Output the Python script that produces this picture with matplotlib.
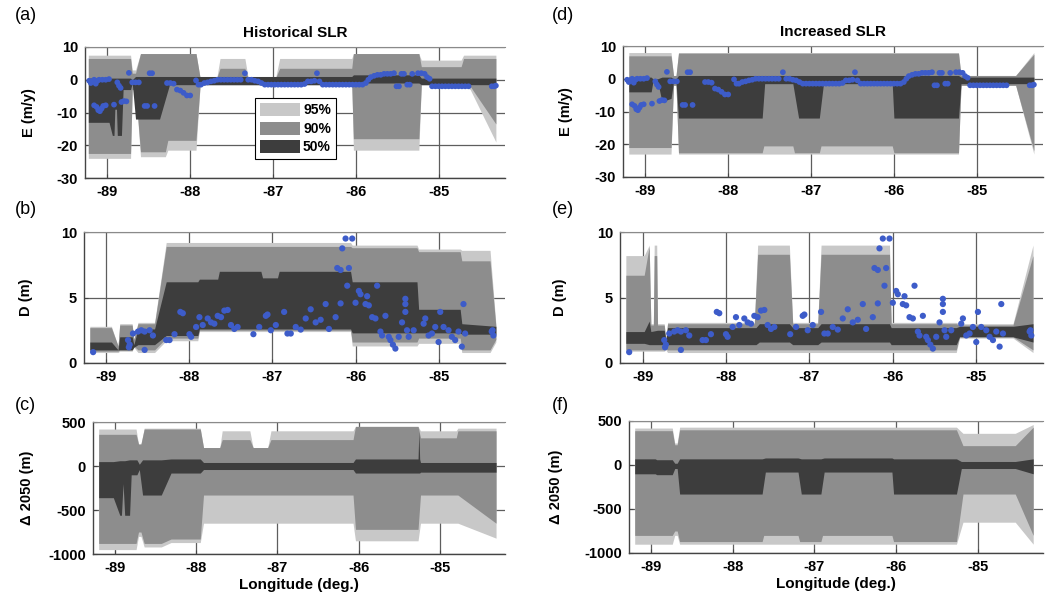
import matplotlib
matplotlib.use('Agg')
import matplotlib.pyplot as plt
from matplotlib.patches import Patch

plt.rcParams['font.family'] = ['Liberation Sans', 'DejaVu Sans']
plt.rcParams['font.weight'] = 'bold'
plt.rcParams['axes.unicode_minus'] = False

C95 = '#c8c8c8'
C90 = '#8d8d8d'
C50 = '#3d3d3d'
CPT = '#3d5cc9'

XTICKS = [-89, -88, -87, -86, -85]
LEGEND_LABELS = ['95%', '90%', '50%']

# ---------------- observations (shared by both scenarios) ----------------
E_lon = [-89.22, -89.20, -89.18, -89.16, -89.14, -89.12, -89.10, -89.06, -89.02, -88.98,
         -89.16, -89.13, -89.11, -89.09, -89.07, -89.05, -89.02, -88.92, -88.88, -88.86,
         -88.84, -88.83, -88.80, -88.77, -88.74, -88.70, -88.66, -88.62, -88.55, -88.52,
         -88.49, -88.46, -88.43, -88.28, -88.24, -88.20, -88.16, -88.12, -88.08, -88.04,
         -88.00, -87.93, -87.90, -87.87, -87.83, -87.79, -87.75, -87.71, -87.67, -87.63,
         -87.59, -87.55, -87.51, -87.47, -87.43, -87.39, -87.34, -87.30, -87.26, -87.22,
         -87.18, -87.14, -87.10, -87.06, -87.02, -86.98, -86.94, -86.90, -86.86, -86.82,
         -86.78, -86.74, -86.70, -86.66, -86.62, -86.58, -86.54, -86.50, -86.47, -86.44,
         -86.40, -86.36, -86.32, -86.28, -86.24, -86.20, -86.16, -86.12, -86.08, -86.04,
         -86.00, -85.96, -85.92, -85.88, -85.85, -85.82, -85.78, -85.74, -85.70, -85.66,
         -85.62, -85.58, -85.54, -85.51, -85.48, -85.45, -85.42, -85.38, -85.35, -85.32,
         -85.25, -85.21, -85.17, -85.14, -85.11, -85.08, -85.04, -85.00, -84.96, -84.92,
         -84.88, -84.84, -84.80, -84.76, -84.72, -84.68, -84.64, -84.36, -84.33, -84.31]
E_val = [-0.3, -1.0, -0.5, 0.0, -1.2, -0.3, 0.0, 0.0, 0.0, 0.2,
         -7.8, -8.3, -9.3, -9.6, -8.8, -8.0, -7.8, -7.6, -0.8, -1.8,
         -2.5, -6.8, -6.5, -6.6, 2.1, -0.8, -0.8, -0.8, -8.0, -8.0,
         2.0, 2.0, -8.0, -1.0, -1.0, -1.2, -3.0, -3.3, -4.0, -4.8,
         -4.8, -0.2, -1.5, -1.5, -1.0, -0.8, -0.5, -0.3, 0.0, 0.0,
         0.0, 0.0, 0.0, 0.0, 0.0, 0.0, 2.0, 0.0, 0.0, -0.3,
         -0.5, -1.0, -1.5, -1.5, -1.5, -1.5, -1.5, -1.5, -1.5, -1.5,
         -1.5, -1.5, -1.5, -1.5, -1.3, -0.5, -0.5, -0.3, 2.0, -0.5,
         -1.5, -1.5, -1.5, -1.5, -1.5, -1.5, -1.5, -1.5, -1.5, -1.5,
         -1.5, -1.5, -1.5, -1.0, 0.0, 0.8, 1.2, 1.5, 1.5, 1.8,
         1.8, 1.8, 2.0, -2.0, -2.0, 1.8, 1.8, -1.5, -1.5, 1.8,
         2.0, 2.0, 1.8, 0.8, 0.3, -2.0, -2.0, -2.0, -2.0, -2.0,
         -2.0, -2.0, -2.0, -2.0, -2.0, -2.0, -2.0, -2.0, -2.0, -1.8]

D_lon = [-89.16, -88.74, -88.72, -88.73, -88.68, -88.62, -88.58, -88.54, -88.54, -88.48,
         -88.44, -88.28, -88.24, -88.18, -88.11, -88.08, -88.00, -87.98, -87.92, -87.88,
         -87.84, -87.78, -87.74, -87.70, -87.66, -87.62, -87.58, -87.54, -87.50, -87.46,
         -87.42, -87.23, -87.16, -87.08, -87.06, -87.02, -86.96, -86.86, -86.82, -86.78,
         -86.72, -86.66, -86.60, -86.54, -86.48, -86.42, -86.36, -86.32, -86.24, -86.22,
         -86.18, -86.16, -86.12, -86.04, -86.08, -86.10, -86.18, -86.00, -85.96, -85.94,
         -85.88, -85.84, -85.86, -85.80, -85.76, -85.74, -85.70, -85.68, -85.64, -85.60,
         -85.58, -85.55, -85.52, -85.48, -85.44, -85.40, -85.40, -85.40, -85.38, -85.36,
         -85.30, -85.18, -85.16, -85.12, -85.08, -85.04, -85.00, -84.98, -84.94, -84.88,
         -84.84, -84.80, -84.76, -84.72, -84.70, -84.68, -84.36, -84.34, -84.35]
D_val = [0.83, 1.75, 1.4, 1.2, 2.25, 2.4, 2.5, 2.4, 1.0, 2.5,
         2.1, 1.75, 1.75, 2.2, 3.9, 3.8, 2.2, 2.0, 2.75, 3.5,
         2.9, 3.4, 3.1, 3.0, 3.6, 3.5, 4.0, 4.05, 2.9, 2.6,
         2.75, 2.2, 2.75, 3.6, 3.7, 2.5, 2.9, 3.9, 2.25, 2.25,
         2.75, 2.55, 3.4, 4.1, 3.1, 3.3, 4.5, 2.6, 3.5, 7.25,
         7.1, 8.75, 9.5, 9.5, 7.25, 5.9, 4.55, 4.6, 5.5, 5.25,
         4.5, 4.4, 5.1, 3.5, 3.4, 5.9, 2.4, 2.1, 3.6, 2.0,
         1.75, 1.4, 1.1, 2.0, 3.1, 3.9, 4.5, 4.9, 2.5, 2.0,
         2.5, 3.0, 3.4, 2.1, 2.25, 2.75, 1.6, 3.9, 2.75, 2.5,
         2.0, 1.75, 2.4, 1.25, 4.5, 2.25, 2.4, 2.1, 2.5]

# ---------------- (a) E, historical ----------------
a9_x = [-89.23, -88.72, -88.70, -88.66, -88.60, -88.30, -88.27, -87.93, -87.88, -87.68,
        -87.64, -87.34, -87.30, -86.97, -86.92, -86.05, -86.03, -85.24, -85.21, -84.73,
        -84.70, -84.62, -84.31]
a95_hi = [7.5, 7.5, 3, 3, 8, 8, 8, 8, 0.5, 0.5, 6.5, 6.5, 0.5, 0.5, 6.5, 6.5, 8, 8, 6, 6, 7.5, 7.5, 7.5]
a95_lo = [-24, -24, -3, -3, -23.5, -23.5, -21.5, -21.5, -1.5, -1.5, -1.5, -1.5, -1.5, -1.5, -1.5, -1.5,
          -21.5, -21.5, -1.5, -1.5, -1.5, -3, -19]
a90_hi = [6.5, 6.5, 2, 2, 8, 8, 8, 8, 0.5, 0.5, 3.5, 3.5, 0.5, 0.5, 3.5, 3.5, 8, 8, 4, 4, 6.5, 6.5, 6.5]
a90_lo = [-22.5, -22.5, -3, -3, -22, -22, -18.5, -18.5, -1.5, -1.5, -1.5, -1.5, -1.5, -1.5, -1.5, -1.5,
          -18, -18, -1.5, -1.5, -1.5, -2, -13.5]
a50_x = [-89.23, -88.98, -88.94, -88.92, -88.91, -88.89, -88.88, -88.83, -88.81, -88.72,
         -88.70, -88.66, -88.37, -88.25, -86.05, -86.03, -85.24, -85.21, -84.31]
a50_hi = [0.5, 0.5, 0.5, 0.5, 0.5, 0.5, 0.5, 0.5, 0.5, 0.5, 0, 1, 1, 1, 1, 1.5, 1.5, 0.5, 0.5]
a50_lo = [-13, -13, -17, -17, -9, -9, -17, -17, -3, -3, -1, -12, -12, -1.5, -1.5, -1, -1, -1.5, -1.5]

# ---------------- (b) D, historical ----------------
b9_x = [-89.20, -88.94, -88.86, -88.84, -88.69, -88.67, -88.62, -88.42, -88.28, -87.90,
        -87.88, -86.06, -86.04, -85.26, -85.24, -84.74, -84.72, -84.38, -84.31]
b95_hi = [2.8, 2.8, 1.3, 3.0, 3.0, 1.8, 3.1, 3.1, 9.2, 9.2, 9.2, 9.2, 9.0, 9.0, 8.7, 8.7, 8.6, 8.6, 3.0]
b95_lo = [0.8, 0.8, 0.8, 0.9, 0.9, 1.2, 0.8, 0.8, 1.7, 1.7, 2.4, 2.4, 1.3, 1.3, 1.5, 1.5, 0.8, 0.8, 1.6]
b90_hi = [2.7, 2.7, 1.3, 2.9, 2.9, 1.8, 3.0, 3.0, 8.9, 8.9, 8.9, 8.9, 8.8, 8.8, 8.5, 8.5, 7.8, 7.8, 2.8]
b90_lo = [0.9, 0.9, 0.9, 1.0, 1.0, 1.3, 1.0, 1.0, 1.9, 1.9, 2.5, 2.5, 1.6, 1.6, 1.9, 1.9, 1.0, 1.0, 1.8]
b50_x = [-89.20, -88.94, -88.86, -88.84, -88.69, -88.67, -88.62, -88.42, -88.28, -87.90,
         -87.88, -87.66, -87.64, -87.14, -87.12, -86.94, -86.92, -86.06, -86.04, -85.26,
         -85.24, -84.74, -84.72, -84.31]
b50_hi = [1.6, 1.6, 1.0, 2.0, 2.0, 1.4, 2.6, 2.6, 6.2, 6.2, 6.4, 6.4, 7.0, 7.0, 6.5, 6.5, 7.0, 7.0,
          6.2, 6.2, 4.1, 4.1, 3.0, 2.8]
b50_lo = [1.0, 1.0, 1.0, 1.0, 1.0, 1.2, 1.4, 1.4, 2.1, 2.1, 2.6, 2.6, 2.6, 2.6, 2.6, 2.6, 2.6, 2.6,
          2.3, 2.3, 2.3, 2.3, 2.2, 2.2]

# ---------------- (c) Delta 2050, historical ----------------
c9_x = [-89.20, -88.74, -88.71, -88.68, -88.64, -88.43, -88.31, -87.95, -87.91, -87.71,
        -87.68, -87.34, -87.30, -87.12, -87.08, -86.07, -86.04, -85.27, -85.24, -84.80,
        -84.78, -84.31]
c95_hi = [420, 420, 250, 250, 430, 430, 430, 430, 210, 210, 400, 400, 210, 210, 400, 400,
          450, 450, 400, 400, 430, 430]
c95_lo = [-950, -950, -800, -800, -920, -920, -870, -870, -650, -650, -650, -650, -650, -650,
          -650, -650, -850, -850, -650, -650, -650, -820]
c90_hi = [360, 360, 250, 250, 420, 420, 420, 420, 210, 210, 300, 300, 210, 210, 300, 300,
          450, 450, 320, 320, 400, 400]
c90_lo = [-880, -880, -750, -750, -880, -880, -830, -830, -330, -330, -330, -330, -330, -330,
          -330, -330, -720, -720, -330, -330, -330, -650]
c50_x = [-89.20, -89.02, -88.94, -88.92, -88.90, -88.88, -88.82, -88.80, -88.73, -88.70,
         -88.66, -88.43, -88.31, -87.95, -87.91, -86.07, -86.04, -85.27, -85.26, -85.25,
         -85.24, -84.31]
c50_hi = [50, 50, 60, 60, 60, 60, 70, 70, 70, 20, 70, 70, 80, 80, 40, 40, 80, 80, 400, 80, 40, 40]
c50_lo = [-360, -360, -560, -560, -200, -560, -560, -100, -100, -40, -330, -330, -80, -80,
          -40, -40, -80, -80, -80, -80, -70, -70]

# ---------------- (d) E, increased ----------------
d9_x = [-89.20, -88.69, -88.66, -88.63, -88.60, -87.59, -87.57, -87.22, -87.20, -86.90,
        -86.88, -86.02, -86.00, -85.22, -85.19, -84.53, -84.31]
d95_hi = [8, 8, 1, 1, 8, 8, 8, 8, 8, 8, 8, 8, 8, 8, 1, 1, 8]
d95_lo = [-23, -23, -2, -2, -23, -23, -23, -23, -23, -23, -23, -23, -23, -23, -2, -2, -23]
d90_hi = [7, 7, 1, 1, 7.8, 7.8, 7.8, 7.8, 7.8, 7.8, 7.8, 7.8, 7.8, 7.8, 1, 1, 7.5]
d90_lo = [-21, -21, -2, -2, -22.6, -22.6, -20.5, -20.5, -22.6, -22.6, -20.5, -20.5, -22.6, -22.6,
          -2, -2, -22]
d50_x = [-89.20, -88.93, -88.91, -88.85, -88.80, -88.69, -88.66, -88.63, -88.60, -87.59,
         -87.56, -87.22, -87.15, -86.90, -86.85, -86.02, -86.00, -85.22, -85.19, -84.31]
d50_hi = [0.5, 0.5, 0, 0, 0.5, 0.5, 0, 0, 1, 1, 1, 1, 1, 1, 1, 1, 1, 1, 0.5, 0.5]
d50_lo = [-4, -4, -1, -1, -7, -6, -1, -1, -12, -12, -1.5, -1.5, -12, -12, -1.5, -1.5, -12, -12, -1.5, -1.5]

# ---------------- (e) D, increased ----------------
e9_x = [-89.20, -88.98, -88.92, -88.90, -88.87, -88.86, -88.83, -88.82, -88.74, -88.72,
        -88.70, -87.66, -87.62, -87.24, -87.20, -86.90, -86.86, -86.04, -86.02, -85.24,
        -85.20, -84.56, -84.32]
e95_hi = [8.2, 8.2, 9.0, 3.0, 3.0, 9.0, 9.0, 3.0, 3.0, 1.8, 3.1, 3.1, 9.0, 9.0, 3.1, 3.1,
          9.0, 9.0, 3.1, 3.1, 3.0, 3.0, 9.0]
e95_lo = [0.9, 0.9, 0.9, 0.9, 0.9, 0.9, 0.9, 0.9, 0.9, 1.0, 0.8, 0.8, 0.8, 0.8, 0.8, 0.8,
          0.8, 0.8, 0.8, 0.8, 1.9, 1.9, 0.8]
e90_hi = [6.7, 6.7, 8.9, 2.9, 2.9, 8.2, 8.2, 2.9, 2.9, 1.7, 3.0, 3.0, 8.3, 8.3, 3.0, 3.0,
          8.3, 8.3, 3.0, 3.0, 2.9, 2.9, 8.2]
e90_lo = [1.0, 1.0, 1.0, 1.0, 1.0, 1.0, 1.0, 1.0, 1.0, 1.1, 1.0, 1.0, 1.0, 1.0, 1.0, 1.0,
          1.0, 1.0, 1.0, 1.0, 2.0, 2.0, 1.0]
e50_x = [-89.20, -88.98, -88.92, -88.90, -88.82, -88.74, -88.72, -88.70, -87.64, -87.60,
         -87.24, -87.20, -86.90, -86.86, -86.04, -86.02, -85.24, -85.20, -84.56, -84.32]
e50_hi = [2.4, 2.4, 3.2, 2.4, 2.5, 2.5, 1.8, 2.7, 2.7, 3.0, 3.0, 2.7, 2.7, 3.0, 3.0, 2.7, 2.7, 2.8, 2.8, 3.0]
e50_lo = [1.5, 1.5, 1.4, 1.4, 1.4, 1.4, 1.4, 1.4, 1.4, 1.6, 1.6, 1.4, 1.4, 1.6, 1.6, 1.4, 1.4, 2.0, 2.0, 1.6]

# ---------------- (f) Delta 2050, increased ----------------
f9_x = [-89.20, -88.74, -88.71, -88.68, -88.65, -87.64, -87.62, -87.20, -87.18, -86.92,
        -86.90, -86.05, -86.03, -85.26, -85.18, -84.54, -84.32]
f95_hi = [420, 420, 250, 250, 430, 430, 430, 430, 430, 430, 430, 430, 430, 430, 360, 360, 460]
f95_lo = [-900, -900, -800, -800, -900, -900, -900, -900, -900, -900, -900, -900, -900, -900,
          -650, -650, -900]
f90_hi = [390, 390, 230, 230, 400, 400, 400, 400, 400, 400, 400, 400, 400, 400, 220, 220, 430]
f90_lo = [-800, -800, -750, -750, -870, -870, -800, -800, -870, -870, -800, -800, -870, -870,
          -330, -330, -800]
f50_x = [-89.20, -88.95, -88.93, -88.74, -88.71, -88.68, -88.65, -87.64, -87.60, -87.20,
         -87.16, -86.92, -86.88, -86.05, -86.03, -85.26, -85.20, -84.54, -84.32]
f50_hi = [70, 70, 60, 60, 20, 20, 70, 70, 80, 80, 70, 70, 80, 80, 70, 70, 40, 40, 70]
f50_lo = [-100, -100, -110, -110, -40, -40, -330, -330, -80, -80, -330, -330, -80, -80,
          -330, -330, -40, -40, -100]

# ---------------- figure ----------------
W, H = 1050, 603
fig = plt.figure(figsize=(W / 100, H / 100), dpi=100)


def px_axes(left, right, top, bottom):
    return fig.add_axes([left / W, 1 - bottom / H, (right - left) / W, (bottom - top) / H])


def style(ax, ylim, yticks, ylabel, lab_x):
    ax.set_xlim(-89.27, -84.2)
    ax.set_ylim(*ylim)
    ax.set_xticks(XTICKS)
    ax.set_yticks(yticks)
    ax.set_axisbelow(True)
    ax.grid(True, color='#5e5e5e', lw=0.9)
    for s in ['left', 'bottom']:
        ax.spines[s].set_color('#444444')
        ax.spines[s].set_linewidth(1.0)
    ax.spines['top'].set_color('#8a8a8a')
    ax.spines['top'].set_linewidth(0.8)
    ax.spines['right'].set_visible(False)
    ax.tick_params(direction='in', length=3, color='#444444', labelsize=10.5, pad=5)
    ax.set_ylabel(ylabel, fontsize=10.5, fontweight='bold')
    ax.yaxis.set_label_coords(lab_x, 0.5)


def bands(ax, x9, lo95, hi95, lo90, hi90, x5, lo50, hi50):
    ax.fill_between(x9, lo95, hi95, color=C95, lw=0, zorder=2)
    ax.fill_between(x9, lo90, hi90, color=C90, lw=0, zorder=3)
    ax.fill_between(x5, lo50, hi50, color=C50, lw=0, zorder=4)


axa = px_axes(85, 505, 47, 178)
axb = px_axes(84, 505, 232, 363)
axc = px_axes(93, 505, 422, 554)
axd = px_axes(623, 1043, 46, 177)
axe = px_axes(620, 1043, 232, 363)
axf = px_axes(629, 1043, 421, 553)

bands(axa, a9_x, a95_lo, a95_hi, a90_lo, a90_hi, a50_x, a50_lo, a50_hi)
bands(axb, b9_x, b95_lo, b95_hi, b90_lo, b90_hi, b50_x, b50_lo, b50_hi)
bands(axc, c9_x, c95_lo, c95_hi, c90_lo, c90_hi, c50_x, c50_lo, c50_hi)
bands(axd, d9_x, d95_lo, d95_hi, d90_lo, d90_hi, d50_x, d50_lo, d50_hi)
bands(axe, e9_x, e95_lo, e95_hi, e90_lo, e90_hi, e50_x, e50_lo, e50_hi)
bands(axf, f9_x, f95_lo, f95_hi, f90_lo, f90_hi, f50_x, f50_lo, f50_hi)

for ax in (axa, axd):
    ax.scatter(E_lon, E_val, s=17, c=CPT, edgecolors='none', zorder=6)
for ax in (axb, axe):
    ax.scatter(D_lon, D_val, s=20, c=CPT, edgecolors='none', zorder=6)

style(axa, (-30, 10), [-30, -20, -10, 0, 10], 'E (m/y)', -0.117)
style(axb, (0, 10), [0, 5, 10], 'D (m)', -0.12)
style(axc, (-1000, 500), [-1000, -500, 0, 500], 'Δ 2050 (m)', -0.143)
style(axd, (-30, 10), [-30, -20, -10, 0, 10], 'E (m/y)', -0.12)
style(axe, (0, 10), [0, 5, 10], 'D (m)', -0.125)
style(axf, (-1000, 500), [-1000, -500, 0, 500], 'Δ 2050 (m)', -0.16)

axa.set_title('Historical SLR', fontsize=11, fontweight='bold', pad=7)
axd.set_title('Increased SLR', fontsize=11, fontweight='bold', pad=7)
axc.set_xlabel('Longitude (deg.)', fontsize=11, fontweight='bold', labelpad=2)
axf.set_xlabel('Longitude (deg.)', fontsize=11, fontweight='bold', labelpad=2)

handles = [Patch(facecolor=c, edgecolor='none') for c in (C95, C90, C50)]
leg = axa.legend(handles, LEGEND_LABELS, loc='upper left', bbox_to_anchor=(0.405, 0.61),
                 borderaxespad=0, fontsize=10, handlelength=2.9, handleheight=1.1,
                 labelspacing=0.3, handletextpad=0.2, borderpad=0.35, fancybox=False,
                 framealpha=1, edgecolor='black')
leg.get_frame().set_linewidth(0.8)
leg.set_zorder(10)

for lab, x, y in [('(a)', 15, 15), ('(b)', 15, 210), ('(c)', 15, 405),
                  ('(d)', 552, 15), ('(e)', 552, 210), ('(f)', 552, 405)]:
    fig.text(x / W, 1 - y / H, lab, fontsize=13, fontweight='normal', va='center', ha='left')

fig.savefig('out.png', dpi=100)
